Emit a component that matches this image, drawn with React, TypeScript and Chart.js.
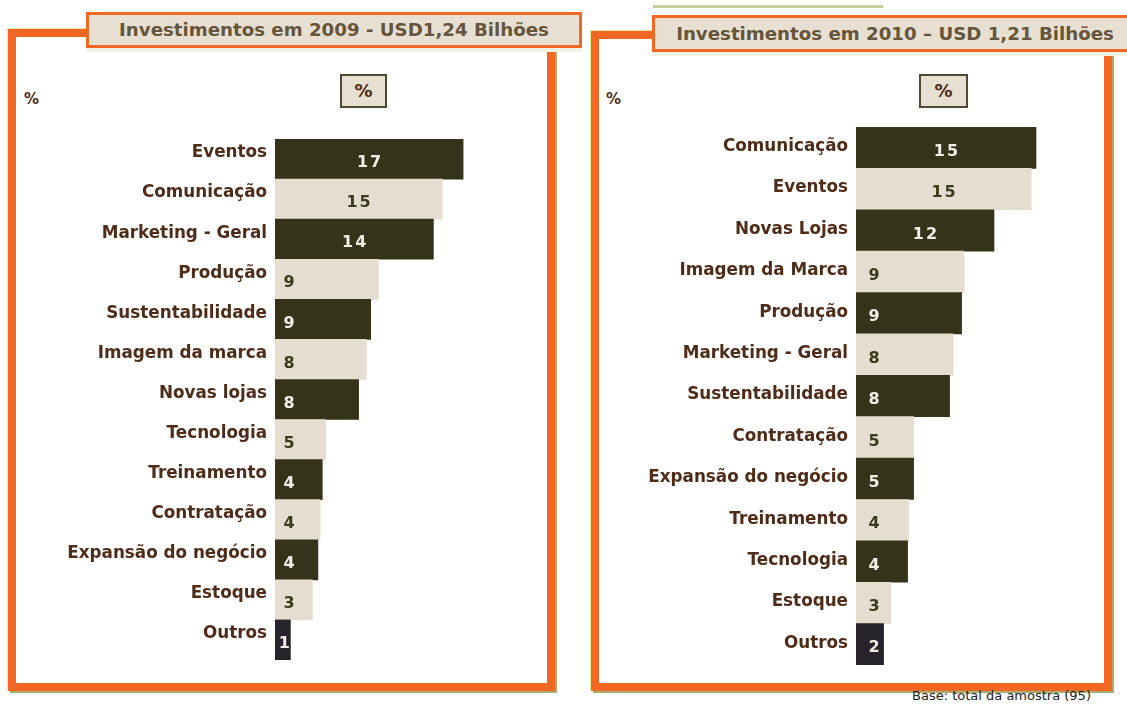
import React, { useEffect, useRef } from 'react';
import { Chart, registerables } from 'chart.js';

Chart.register(...registerables);

const title2009 = 'Investimentos em 2009 - USD1,24 Bilhões';
const title2010 = 'Investimentos em 2010 – USD 1,21 Bilhões';
const unitLabel = '%';
const baseNote = 'Base: total da amostra (95)';

const categories2009 = [
  'Eventos', 'Comunicação', 'Marketing - Geral', 'Produção', 'Sustentabilidade',
  'Imagem da marca', 'Novas lojas', 'Tecnologia', 'Treinamento', 'Contratação',
  'Expansão do negócio', 'Estoque', 'Outros',
];
const values2009 = [17.1, 15.2, 14.4, 9.4, 8.7, 8.3, 7.6, 4.6, 4.3, 4.1, 3.9, 3.4, 1.4];

const categories2010 = [
  'Comunicação', 'Eventos', 'Novas Lojas', 'Imagem da Marca', 'Produção',
  'Marketing - Geral', 'Sustentabilidade', 'Contratação', 'Expansão do negócio',
  'Treinamento', 'Tecnologia', 'Estoque', 'Outros',
];
const values2010 = [15.0, 14.6, 11.5, 9.0, 8.8, 8.1, 7.8, 4.8, 4.8, 4.4, 4.3, 2.9, 2.3];

const ORANGE = '#f26724';
const DARK = '#35341a';
const LIGHT = '#e5ded0';
const BLACKISH = '#26232b';
const BROWN = '#4f2c18';

function barColors(n: number) {
  return Array.from({ length: n }, (_, i) =>
    i === n - 1 ? BLACKISH : i % 2 === 0 ? DARK : LIGHT
  );
}

function makeValueLabels(smallOffset: number) {
  return {
    id: 'valueLabels',
    afterDatasetsDraw(chart: any) {
      const ctx = chart.ctx;
      const meta = chart.getDatasetMeta(0);
      const data = chart.data.datasets[0].data as number[];
      const n = data.length;
      ctx.save();
      ctx.font = 'bold 16px "DejaVu Sans"';
      ctx.textAlign = 'center';
      ctx.textBaseline = 'middle';
      try { (ctx as any).letterSpacing = '2px'; } catch (e) {}
      meta.data.forEach((bar: any, i: number) => {
        const v = data[i];
        const start = bar.base;
        const end = bar.x;
        const x = v >= 11 ? (start + end) / 2 + 1 : Math.min(start + smallOffset, end - 5);
        const dark = i === n - 1 || i % 2 === 0;
        ctx.fillStyle = dark ? '#f3efe6' : '#3a3b1c';
        ctx.fillText(String(Math.round(v)), x, bar.y + 4);
      });
      ctx.restore();
    },
  };
}

type PanelProps = {
  categories: string[];
  values: number[];
  max: number;
  axisWidth: number;
  labelOffset: number;
  smallOffset: number;
  left: number;
  top: number;
  width: number;
  height: number;
};

function BarPanel(p: PanelProps) {
  const ref = useRef<HTMLCanvasElement>(null);
  useEffect(() => {
    if (!ref.current) return;
    const chart = new Chart(ref.current, {
      type: 'bar',
      data: {
        labels: p.categories,
        datasets: [
          {
            data: p.values,
            backgroundColor: barColors(p.values.length),
            borderWidth: 0,
            barPercentage: 1,
            categoryPercentage: 1,
          },
        ],
      },
      options: {
        indexAxis: 'y',
        animation: false,
        responsive: false,
        maintainAspectRatio: false,
        layout: { padding: 0 },
        plugins: { legend: { display: false }, tooltip: { enabled: false } },
        scales: {
          x: { display: false, min: 0, max: p.max },
          y: {
            grid: { display: false, drawTicks: false },
            border: { display: false },
            ticks: {
              padding: 8,
              labelOffset: p.labelOffset,
              color: BROWN,
              autoSkip: false,
              font: { family: '"DejaVu Sans"', size: 16.8, weight: 'bold' },
            },
            afterFit: (s: any) => {
              s.width = p.axisWidth;
              s.paddingTop = 0;
              s.paddingBottom = 0;
            },
          },
        },
      } as any,
      plugins: [makeValueLabels(p.smallOffset)],
    });
    return () => chart.destroy();
  }, []);
  return (
    <canvas
      ref={ref}
      width={p.width}
      height={p.height}
      style={{ position: 'absolute', left: p.left, top: p.top, width: p.width, height: p.height }}
    />
  );
}

const titleStyle: React.CSSProperties = {
  position: 'absolute',
  boxSizing: 'border-box',
  border: `3px solid ${ORANGE}`,
  background: '#e7e0d2',
  color: '#66553a',
  fontFamily: '"DejaVu Sans"',
  fontWeight: 'bold',
  fontSize: 18.2,
  textAlign: 'center',
  whiteSpace: 'nowrap',
  boxShadow: '0 4px 0 #f1f1e6',
  zIndex: 3,
};

const frameStyle: React.CSSProperties = {
  position: 'absolute',
  boxSizing: 'border-box',
  border: `8px solid ${ORANGE}`,
  background: '#ffffff',
  boxShadow: '-1px -1px 0 #e8ec9c, 2px 2px 0 #a8ac6a',
};

const pctBox: React.CSSProperties = {
  position: 'absolute',
  boxSizing: 'border-box',
  border: '2px solid #4b4a32',
  background: '#e7e0d2',
  color: BROWN,
  fontFamily: '"DejaVu Sans"',
  fontWeight: 'bold',
  fontSize: 18,
  textAlign: 'center',
  zIndex: 2,
};

const pctSmall: React.CSSProperties = {
  position: 'absolute',
  color: BROWN,
  fontFamily: '"DejaVu Sans"',
  fontWeight: 'bold',
  fontSize: 15,
  zIndex: 2,
};

export default function App() {
  useEffect(() => {
    document.body.style.margin = '0';
  }, []);
  return (
    <div style={{ position: 'absolute', left: 0, top: 0, width: 1127, height: 706, overflow: 'hidden', background: '#fff' }}>
      <div style={{ position: 'absolute', left: 653, top: 5, width: 230, height: 3, background: '#c9cda2' }} />

      <div style={{ ...frameStyle, left: 8, top: 29, width: 547, height: 662 }} />
      <div style={{ ...frameStyle, left: 591, top: 31, width: 521, height: 660 }} />

      <BarPanel categories={categories2009} values={values2009} max={25} axisWidth={255} labelOffset={-6}
        smallOffset={15} left={20} top={139} width={530} height={521} />
      <BarPanel categories={categories2010} values={values2010} max={22} axisWidth={256} labelOffset={-1}
        smallOffset={19} left={600} top={127} width={520} height={538} />

      <div style={{ ...titleStyle, left: 86, top: 12, width: 496, height: 36, lineHeight: '30px' }}>{title2009}</div>
      <div style={{ ...titleStyle, left: 652, top: 15, width: 486, height: 37, lineHeight: '31px' }}>{title2010}</div>

      <div style={{ ...pctSmall, left: 24, top: 90 }}>{unitLabel}</div>
      <div style={{ ...pctSmall, left: 606, top: 90 }}>{unitLabel}</div>
      <div style={{ ...pctBox, left: 340, top: 74, width: 47, height: 34, lineHeight: '30px' }}>{unitLabel}</div>
      <div style={{ ...pctBox, left: 919, top: 74, width: 49, height: 34, lineHeight: '30px' }}>{unitLabel}</div>

      <div style={{ position: 'absolute', left: 912, top: 688, fontFamily: '"DejaVu Sans"', fontSize: 13, color: '#222', whiteSpace: 'nowrap' }}>{baseNote}</div>
    </div>
  );
}
